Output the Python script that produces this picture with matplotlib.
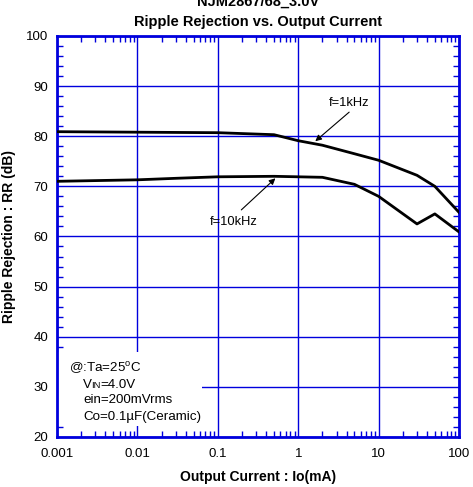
import numpy as np
import matplotlib
matplotlib.use('Agg')
import matplotlib.pyplot as plt
from matplotlib.patches import Rectangle
from matplotlib.ticker import FixedLocator, NullFormatter, LogLocator

plt.rcParams['font.family'] = ['Liberation Sans', 'DejaVu Sans']

# Ripple rejection vs output current (mA)
io_1k = [0.001, 0.01, 0.1, 0.5, 1, 2, 5, 10, 30, 50, 100]
rr_1k = [80.9, 80.8, 80.7, 80.3, 79.1, 78.2, 76.5, 75.2, 72.2, 70.0, 64.8]

io_10k = [0.001, 0.01, 0.03, 0.1, 0.5, 2, 5, 10, 30, 50, 100]
rr_10k = [71.0, 71.3, 71.6, 71.9, 72.0, 71.8, 70.4, 68.0, 62.5, 64.5, 60.9]

x_ticks = [0.001, 0.01, 0.1, 1, 10, 100]
x_tick_labels = ['0.001', '0.01', '0.1', '1', '10', '100']
y_ticks = [20, 30, 40, 50, 60, 70, 80, 90, 100]

blue = '#0000dd'

fig = plt.figure(figsize=(4.73, 4.87), dpi=100)
ax = fig.add_axes([0.1205, 0.1027, 0.85, 0.8235])

ax.plot(io_1k, rr_1k, color='black', linewidth=2.0, zorder=3)
ax.plot(io_10k, rr_10k, color='black', linewidth=2.0, zorder=3)

ax.set_xscale('log')
ax.set_xlim(0.001, 100)
ax.set_ylim(20, 100)

ax.xaxis.set_major_locator(FixedLocator(x_ticks))
ax.set_xticklabels(x_tick_labels)
ax.xaxis.set_minor_locator(LogLocator(base=10, subs=np.arange(2, 10)))
ax.xaxis.set_minor_formatter(NullFormatter())
ax.yaxis.set_major_locator(FixedLocator(y_ticks))
ax.yaxis.set_minor_locator(FixedLocator(np.arange(20, 101, 2)))

ax.set_axisbelow(True)
ax.grid(True, which='major', color=blue, linewidth=1.0)
ax.tick_params(which='both', direction='in', top=True, right=True,
               color=blue, labelsize=9.5)
ax.tick_params(axis='x', which='major', length=0, pad=8)
ax.tick_params(axis='y', which='major', length=0, pad=6.5)
ax.tick_params(which='minor', length=4.5, width=1)
for sp in ax.spines.values():
    sp.set_color(blue)
    sp.set_linewidth(2)

ax.set_xlabel('Output Current : Io(mA)', fontsize=10, fontweight='bold', labelpad=7)
ax.set_ylabel('Ripple Rejection : RR (dB)', fontsize=10, fontweight='bold', labelpad=7)
fig.text(0.545, 0.997, 'NJM2867/68_3.0V', ha='center', va='center',
         fontsize=10.5, fontweight='bold')
fig.text(0.545, 0.955, 'Ripple Rejection vs. Output Current', ha='center',
         va='center', fontsize=10.5, fontweight='bold')

# curve labels
arrow = dict(arrowstyle='-|>', color='black', lw=0.8,
             mutation_scale=9, shrinkA=0, shrinkB=0)
ax.annotate('', xy=(1.63, 79.0), xytext=(4.3, 84.8), arrowprops=arrow, zorder=4)
ax.text(4.26, 86.6, 'f=1kHz', ha='center', va='center', fontsize=9.3)
ax.annotate('', xy=(0.52, 71.6), xytext=(0.196, 65.3), arrowprops=arrow, zorder=4)
ax.text(0.159, 62.9, 'f=10kHz', ha='center', va='center', fontsize=9.3)

# measurement conditions on a white patch
ax.add_patch(Rectangle((0, 0.027), 0.36, 0.185, transform=ax.transAxes,
                       facecolor='white', edgecolor='none', zorder=1))
cond_fs = 9.6
tr = ax.transAxes
ax.text(0.03, 0.171, '@:Ta=25$^{\\mathregular{o}}$C', transform=tr,
        fontsize=cond_fs, va='center')
ax.text(0.065, 0.122, 'V', transform=tr, fontsize=cond_fs, va='baseline')
ax.text(0.084, 0.122, 'IN', transform=tr, fontsize=6.8, va='baseline')
ax.text(0.109, 0.122, '=4.0V', transform=tr, fontsize=cond_fs, va='baseline')
ax.text(0.065, 0.092, 'ein=200mVrms', transform=tr, fontsize=cond_fs,
        va='center')
ax.text(0.065, 0.049, 'Co=0.1\u00b5F(Ceramic)', transform=tr,
        fontsize=cond_fs, va='center')

fig.savefig('out.png', dpi=100)
